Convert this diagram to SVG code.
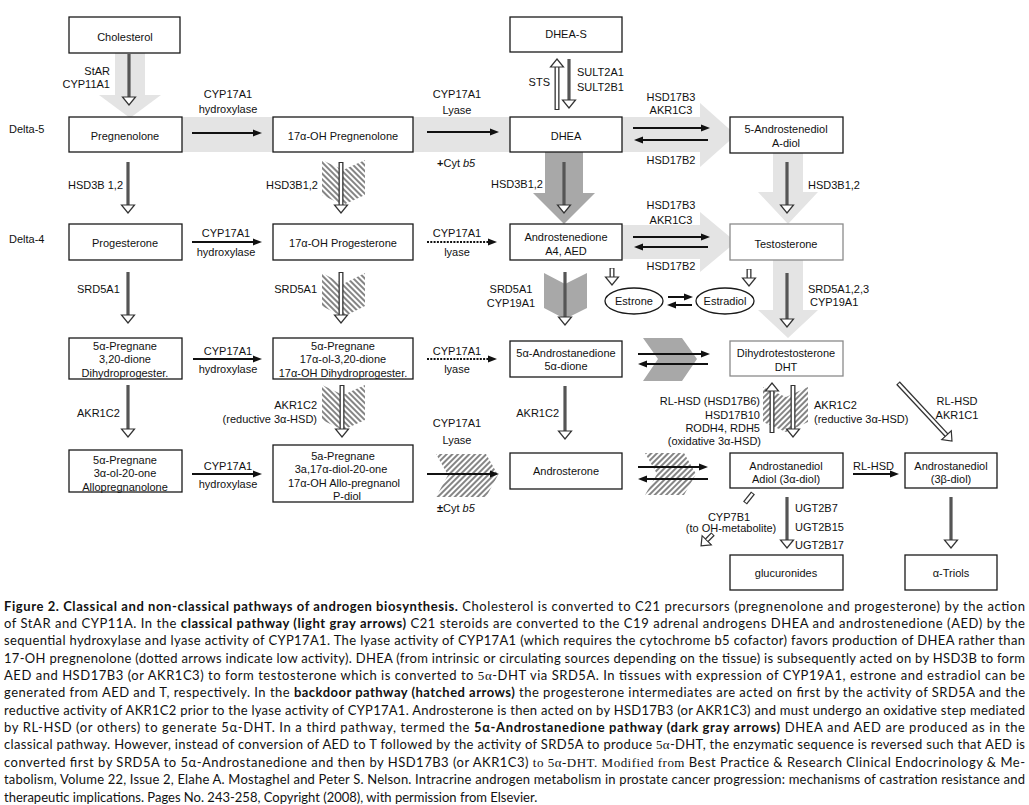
<svg xmlns="http://www.w3.org/2000/svg" width="1029" height="805" viewBox="0 0 1029 805">
<style>
.box{fill:#fff;stroke:#1a1a1a;stroke-width:1.3}
.box2{fill:#fff;stroke:#8a8a8a;stroke-width:1.3}
.t{font-family:"Liberation Sans",Arial,sans-serif;font-size:11px;fill:#111}
.c{text-anchor:middle}
.e{text-anchor:end}
.lg{fill:#e4e4e4}
.dg{fill:#a8a8a8}
.hA{fill:url(#hatchA)}
.hB{fill:url(#hatchB)}
.thin{stroke:#111;stroke-width:2;fill:none;marker-end:url(#ah)}
.dot{stroke-dasharray:2 1.3}
.st{stroke:#555;stroke-width:3.2;fill:none;marker-end:url(#oh)}
.ho{stroke:#333;stroke-width:5;fill:none;marker-end:url(#oh)}
.ho2{stroke:#333;stroke-width:5;fill:none}
.hi{stroke:#fff;stroke-width:2.4;fill:none}
.cap{font-family:Lato,"Open Sans","Liberation Sans",sans-serif;font-size:13px;fill:#111}
.b{font-weight:bold}
.sf{font-family:"Liberation Serif","Times New Roman",serif}
</style>
<defs>
<marker id="ah" viewBox="0 -4 10 8" refX="1" refY="0" markerWidth="10" markerHeight="8" markerUnits="userSpaceOnUse" orient="auto"><path d="M0,-3.5 L9,0 L0,3.5 z" fill="#111"/></marker>
<marker id="oh" viewBox="-1 -8 11 16" refX="1" refY="0" markerWidth="11" markerHeight="16" markerUnits="userSpaceOnUse" orient="auto"><path d="M0,-6.5 L8,0 L0,6.5 z" fill="#fff" stroke="#333" stroke-width="1.2"/></marker>
<pattern id="hatchA" width="4" height="4" patternUnits="userSpaceOnUse" patternTransform="rotate(-45)"><rect x="0" y="0" width="2" height="4" fill="#858585"/></pattern>
<pattern id="hatchB" width="4" height="4" patternUnits="userSpaceOnUse" patternTransform="rotate(45)"><rect x="0" y="0" width="2" height="4" fill="#858585"/></pattern>
</defs>
<rect width="1029" height="805" fill="#fff"/>

<g id="connectors">
<!-- light gray classical arrows -->
<path class="lg" d="M115,53 H145 V95 H161 L130,118 L99,95 H115 Z"/>
<rect class="lg" x="182" y="117" width="91" height="35"/>
<rect class="lg" x="413" y="117" width="97" height="35"/>
<path class="lg" d="M622,117 H700 V103 L736,135 L700,167 V152 H622 Z"/>
<path class="lg" d="M622,225 H700 V212 L736,242 L700,272 V259 H622 Z"/>
<path class="lg" d="M773,153 H803 V192 H818 L788,224 L758,192 H773 Z"/>
<path class="lg" d="M773,260 H803 V310 H818 L788,338 L758,310 H773 Z"/>
<!-- dark gray arrows -->
<path class="dg" d="M545,152 H583 V193 H595 L564,224 L533,193 H545 Z"/>
<path class="dg" d="M544,273 L565,284 L587,273 V308 L565,319 L544,308 Z"/>
<path class="dg" d="M643,338 H682 L697,359 L682,381 H643 L658,359 Z"/>
<!-- hatched backdoor arrows -->
<path class="hA" d="M322,160 L343,170 L365,160 V195 L343,205 L322,195 Z"/>
<path class="hA" d="M322,273 L343,284 L365,273 V306 L343,317 L322,306 Z"/>
<path class="hA" d="M322,385 L343,395 L365,385 V420 L343,430 L322,420 Z"/>
<path class="hB" d="M436,454 H486 L498,475 L486,497 H436 L448,475 Z"/>
<path class="hB" d="M645,453 H684 L696,474 L684,495 H645 L657,474 Z"/>
<path class="hB" d="M763,387 L786,397 L808,387 V422 L786,432 L763,422 Z"/>

<!-- thin horizontal arrows -->
<path class="thin" d="M192,133 H254"/>
<path class="thin" d="M192,242 H254"/>
<path class="thin" d="M193,359 H254"/>
<path class="thin" d="M192,474 H254"/>
<path class="thin" d="M427,132 H491"/>
<path class="thin dot" d="M427,242 H489"/>
<path class="thin dot" d="M427,359 H489"/>
<path class="thin" d="M427,474 H491"/>
<path class="thin" d="M633,128 H702"/>
<path class="thin" d="M708,140 H642"/>
<path class="thin" d="M633,237 H702"/>
<path class="thin" d="M708,247 H642"/>
<path class="thin" d="M638,354 H702"/>
<path class="thin" d="M708,364 H646"/>
<path class="thin" d="M638,467 H700"/>
<path class="thin" d="M708,479 H646"/>
<path class="thin" d="M668,297 H685"/>
<path class="thin" d="M692,305 H675"/>
<path class="thin" d="M853,474 H891"/>

<!-- solid gray vertical stems -->
<path class="st" d="M129,54 V98"/>
<path class="st" d="M128,162 V206"/>
<path class="st" d="M128,272 V316"/>
<path class="st" d="M128,385 V430"/>
<path class="st" d="M569,59 V101"/>
<path class="st" d="M564,162 V206"/>
<path class="st" d="M565,272 V318"/>
<path class="st" d="M565,386 V432"/>
<path class="st" d="M787,162 V206"/>
<path class="st" d="M787,273 V320"/>
<path class="st" d="M787,497 V541"/>
<path class="st" d="M951,497 V541"/>

<!-- hollow stems -->
<path class="ho" d="M341,162 V206"/><path class="hi" d="M341,163 V204.5"/>
<path class="ho" d="M341,272 V316"/><path class="hi" d="M341,273 V314.5"/>
<path class="ho" d="M342,385 V430"/><path class="hi" d="M342,386 V428.5"/>
<path class="ho" d="M557,110 V66"/><path class="hi" d="M557,109 V67.5"/>
<path class="ho" d="M793,385 V430"/><path class="hi" d="M793,386 V428.5"/>
<path class="ho" d="M772,433 V390"/><path class="hi" d="M772,432 V391.5"/>
<path class="ho" d="M612,268 V278"/><path class="hi" d="M612,268.5 V276.5"/>
<path class="ho" d="M749,269 V279"/><path class="hi" d="M749,269.5 V277.5"/>
<path class="ho" d="M898,383 L947.2,435.9"/><path class="hi" d="M898.7,383.7 L946.2,434.8"/>
<path class="ho2" d="M753,493 L745,503"/><path class="hi" d="M752.4,493.8 L745.6,502.2"/>
<path class="ho" d="M713,534 L706,541"/><path class="hi" d="M712.3,534.7 L707,540"/>

<!-- enzyme labels -->
<g class="t">
<text x="110" y="75" class="e">StAR</text>
<text x="110" y="88" class="e">CYP11A1</text>
<text x="9" y="133">Delta-5</text>
<text x="9" y="243">Delta-4</text>
<text x="228" y="98" class="c">CYP17A1</text>
<text x="228" y="113" class="c">hydroxylase</text>
<text x="457" y="98" class="c">CYP17A1</text>
<text x="457" y="114" class="c">Lyase</text>
<text x="437" y="167"><tspan font-weight="bold">+</tspan>Cyt <tspan font-style="italic">b5</tspan></text>
<text x="550" y="86" class="e">STS</text>
<text x="577" y="76">SULT2A1</text>
<text x="577" y="91">SULT2B1</text>
<text x="671" y="101" class="c">HSD17B3</text>
<text x="671" y="114" class="c">AKR1C3</text>
<text x="671" y="164" class="c">HSD17B2</text>
<text x="68" y="189">HSD3B 1,2</text>
<text x="318" y="189" class="e">HSD3B1,2</text>
<text x="543" y="188" class="e">HSD3B1,2</text>
<text x="808" y="189">HSD3B1,2</text>
<text x="226" y="237" class="c">CYP17A1</text>
<text x="226" y="256" class="c">hydroxylase</text>
<text x="457" y="237" class="c">CYP17A1</text>
<text x="457" y="256" class="c">lyase</text>
<text x="671" y="209" class="c">HSD17B3</text>
<text x="671" y="224" class="c">AKR1C3</text>
<text x="671" y="270" class="c">HSD17B2</text>
<text x="77" y="293">SRD5A1</text>
<text x="317" y="293" class="e">SRD5A1</text>
<text x="511" y="293" class="c">SRD5A1</text>
<text x="511" y="307" class="c">CYP19A1</text>
<text x="808" y="293">SRD5A1,2,3</text>
<text x="810" y="306">CYP19A1</text>
<text x="228" y="355" class="c">CYP17A1</text>
<text x="228" y="373" class="c">hydroxylase</text>
<text x="457" y="355" class="c">CYP17A1</text>
<text x="457" y="373" class="c">lyase</text>
<text x="77" y="417">AKR1C2</text>
<text x="317" y="409" class="e">AKR1C2</text>
<text x="317" y="423" class="e">(reductive 3α-HSD)</text>
<text x="559" y="417" class="e">AKR1C2</text>
<text x="760" y="405" class="e">RL-HSD (HSD17B6)</text>
<text x="760" y="419" class="e">HSD17B10</text>
<text x="760" y="432" class="e">RODH4, RDH5</text>
<text x="761" y="445" class="e">(oxidative 3α-HSD)</text>
<text x="814" y="409">AKR1C2</text>
<text x="814" y="423">(reductive 3α-HSD)</text>
<text x="957" y="405" class="c">RL-HSD</text>
<text x="957" y="419" class="c">AKR1C1</text>
<text x="228" y="470" class="c">CYP17A1</text>
<text x="228" y="488" class="c">hydroxylase</text>
<text x="457" y="427" class="c">CYP17A1</text>
<text x="457" y="444" class="c">Lyase</text>
<text x="437" y="512"><tspan font-weight="bold">±</tspan>Cyt <tspan font-style="italic">b5</tspan></text>
<text x="853" y="470">RL-HSD</text>
<text x="729" y="521" class="c">CYP7B1</text>
<text x="731" y="532" class="c">(to OH-metabolite)</text>
<text x="795" y="512">UGT2B7</text>
<text x="795" y="531">UGT2B15</text>
<text x="795" y="549">UGT2B17</text>
</g>
</g>

<g id="cholesterol"><rect class="box" x="69" y="17" width="111" height="36"/><text class="t c" x="125" y="41">Cholesterol</text></g>
<g id="pregnenolone"><rect class="box" x="69" y="117" width="113" height="35"/><text class="t c" x="125" y="140">Pregnenolone</text></g>
<g id="oh-pregnenolone"><rect class="box" x="273" y="117" width="140" height="35"/><text class="t c" x="343" y="140">17α-OH Pregnenolone</text></g>
<g id="dhea-s"><rect class="box" x="510" y="17" width="112" height="35"/><text class="t c" x="566" y="38">DHEA-S</text></g>
<g id="dhea"><rect class="box" x="510" y="117" width="112" height="35"/><text class="t c" x="566" y="140">DHEA</text></g>
<g id="androstenediol"><rect class="box" x="730" y="117" width="113" height="36"/><text class="t c" x="786" y="133">5-Androstenediol</text><text class="t c" x="786" y="147">A-diol</text></g>

<g id="progesterone"><rect class="box" x="69" y="224" width="113" height="36"/><text class="t c" x="125" y="247">Progesterone</text></g>
<g id="oh-progesterone"><rect class="box" x="273" y="224" width="140" height="36"/><text class="t c" x="343" y="247">17α-OH Progesterone</text></g>
<g id="androstenedione"><rect class="box" x="510" y="224" width="112" height="36"/><text class="t c" x="566" y="241">Androstenedione</text><text class="t c" x="566" y="255">A4, AED</text></g>
<g id="testosterone"><rect class="box2" x="730" y="224" width="113" height="36"/><text class="t c" x="786" y="248">Testosterone</text></g>
<g id="estrone"><ellipse cx="634" cy="301" rx="29" ry="13" fill="#fff" stroke="#1a1a1a" stroke-width="1.3"/><text class="t c" x="634" y="305">Estrone</text></g>
<g id="estradiol"><ellipse cx="725" cy="301" rx="29" ry="13" fill="#fff" stroke="#1a1a1a" stroke-width="1.3"/><text class="t c" x="725" y="305">Estradiol</text></g>

<g id="dihydroprogesterone"><rect class="box" x="69" y="338" width="113" height="41"/><text class="t c" x="125" y="350">5α-Pregnane</text><text class="t c" x="125" y="363">3,20-dione</text><text class="t c" x="125" y="377">Dihydroprogester.</text></g>
<g id="oh-dihydroprogesterone"><rect class="box" x="273" y="338" width="140" height="41"/><text class="t c" x="343" y="350">5α-Pregnane</text><text class="t c" x="343" y="363">17α-ol-3,20-dione</text><text class="t c" x="343" y="377">17α-OH Dihydroprogester.</text></g>
<g id="androstanedione"><rect class="box" x="510" y="341" width="112" height="36"/><text class="t c" x="566" y="357">5α-Androstanedione</text><text class="t c" x="566" y="370">5α-dione</text></g>
<g id="dht"><rect class="box2" x="730" y="341" width="113" height="35"/><text class="t c" x="786" y="357">Dihydrotestosterone</text><text class="t c" x="786" y="371">DHT</text></g>

<g id="allopregnanolone"><rect class="box" x="69" y="450" width="113" height="42"/><text class="t c" x="125" y="464">5α-Pregnane</text><text class="t c" x="125" y="477">3α-ol-20-one</text><text class="t c" x="125" y="491">Allopregnanolone</text></g>
<g id="p-diol"><rect class="box" x="273" y="445" width="140" height="57"/><text class="t c" x="343" y="460">5a-Pregnane</text><text class="t c" x="341" y="473">3a,17α-diol-20-one</text><text class="t c" x="344" y="487">17α-OH Allo-pregnanol</text><text class="t c" x="347" y="500">P-diol</text></g>
<g id="androsterone"><rect class="box" x="510" y="453" width="112" height="36"/><text class="t c" x="566" y="475">Androsterone</text></g>
<g id="adiol"><rect class="box" x="730" y="453" width="113" height="35"/><text class="t c" x="786" y="470">Androstanediol</text><text class="t c" x="786" y="483">Adiol (3α-diol)</text></g>
<g id="beta-diol"><rect class="box" x="905" y="453" width="92" height="35"/><text class="t c" x="951" y="470">Androstanediol</text><text class="t c" x="951" y="483">(3β-diol)</text></g>
<g id="glucuronides"><rect class="box" x="730" y="555" width="113" height="35"/><text class="t c" x="786" y="577">glucuronides</text></g>
<g id="triols"><rect class="box" x="905" y="555" width="92" height="35"/><text class="t c" x="951" y="577">α-Triols</text></g>

<g id="caption" class="cap">
<text x="4" y="610.5" textLength="1021"><tspan class="b">Figure 2. Classical and non-classical pathways of androgen biosynthesis.</tspan> Cholesterol is converted to C21 precursors (pregnenolone and progesterone) by the action</text>
<text x="4" y="627.9" textLength="1021">of StAR and CYP11A. In the <tspan class="b">classical pathway (light gray arrows)</tspan> C21 steroids are converted to the C19 adrenal androgens DHEA and androstenedione (AED) by the</text>
<text x="4" y="645.2" textLength="1021">sequential hydroxylase and lyase activity of CYP17A1. The lyase activity of CYP17A1 (which requires the cytochrome b5 cofactor) favors production of DHEA rather than</text>
<text x="4" y="662.6" textLength="1021">17-OH pregnenolone (dotted arrows indicate low activity). DHEA (from intrinsic or circulating sources depending on the tissue) is subsequently acted on by HSD3B to form</text>
<text x="4" y="679.9" textLength="1021">AED and HSD17B3 (or AKR1C3) to form testosterone which is converted to <tspan class="sf">5α</tspan>-DHT via SRD5A. In tissues with expression of CYP19A1, estrone and estradiol can be</text>
<text x="4" y="697.3" textLength="1021">generated from AED and T, respectively. In the <tspan class="b">backdoor pathway (hatched arrows)</tspan> the progesterone intermediates are acted on first by the activity of SRD5A and the</text>
<text x="4" y="714.7" textLength="1021">reductive activity of AKR1C2 prior to the lyase activity of CYP17A1. Androsterone is then acted on by HSD17B3 (or AKR1C3) and must undergo an oxidative step mediated</text>
<text x="4" y="732.0" textLength="1021">by RL-HSD (or others) to generate 5α-DHT. In a third pathway, termed the <tspan class="b">5α-Androstanedione pathway (dark gray arrows)</tspan> DHEA and AED are produced as in the</text>
<text x="4" y="749.4" textLength="1021">classical pathway. However, instead of conversion of AED to T followed by the activity of SRD5A to produce <tspan class="sf">5α</tspan>-DHT, the enzymatic sequence is reversed such that AED is</text>
<text x="4" y="766.7" textLength="1021">converted first by SRD5A to 5α-Androstanedione and then by HSD17B3 (or AKR1C3) <tspan class="sf">to 5α-DHT. Modified from</tspan> Best Practice &amp; Research Clinical Endocrinology &amp; Me-</text>
<text x="4" y="784.1" textLength="1021">tabolism, Volume 22, Issue 2, Elahe A. Mostaghel and Peter S. Nelson. Intracrine androgen metabolism in prostate cancer progression: mechanisms of castration resistance and</text>
<text x="4" y="801.5">therapeutic implications. Pages No. 243-258, Copyright (2008), with permission from Elsevier.</text>
</g>
</svg>
